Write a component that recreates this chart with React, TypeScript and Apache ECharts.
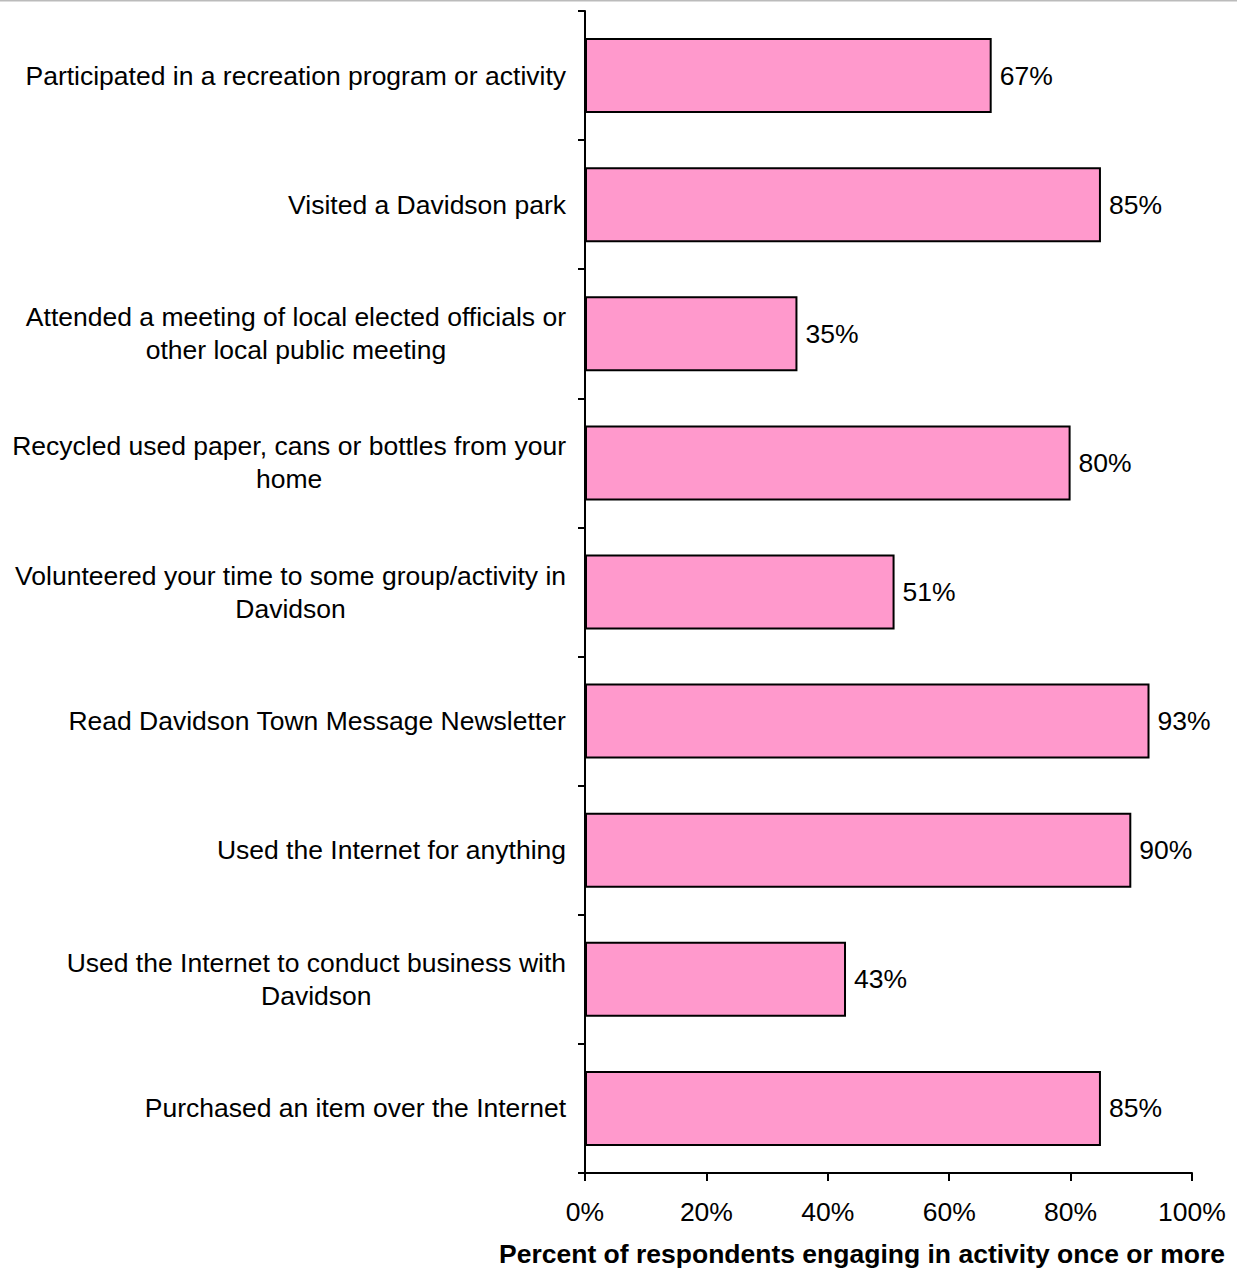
import React, { useEffect, useRef } from "react";
import * as echarts from "echarts";

const categories = [
  "Participated in a recreation program or activity",
  "Visited a Davidson park",
  "Attended a meeting of local elected officials or\nother local public meeting",
  "Recycled used paper, cans or bottles from your\nhome",
  "Volunteered your time to some group/activity in\nDavidson",
  "Read Davidson Town Message Newsletter",
  "Used the Internet for anything",
  "Used the Internet to conduct business with\nDavidson",
  "Purchased an item over the Internet",
];
const values = [67, 85, 35, 80, 51, 93, 90, 43, 85];
const xTicks = [0, 20, 40, 60, 80, 100];
const axisTitle = "Percent of respondents engaging in activity once or more";

export default function App() {
  const ref = useRef<HTMLDivElement>(null);
  useEffect(() => {
    const chart = echarts.init(ref.current!, null, { renderer: "svg" });
    const font = "Arial";
    const fs = 26.5;
    chart.setOption({
      animation: false,
      textStyle: { fontFamily: font },
      grid: { left: 585, right: 45, top: 11, bottom: 114, containLabel: false },
      xAxis: {
        type: "value",
        min: 0,
        max: 100,
        interval: 20,
        axisLine: { show: true, lineStyle: { color: "#000", width: 2 } },
        axisTick: { show: true, length: 8, lineStyle: { color: "#000", width: 2 } },
        axisLabel: {
          formatter: (v: number) => (xTicks.includes(v) ? v + "%" : ""),
          color: "#000",
          fontSize: fs,
          fontFamily: font,
          margin: 25,
        },
        splitLine: { show: false },
      },
      yAxis: {
        type: "category",
        data: categories,
        inverse: true,
        axisLine: { show: true, lineStyle: { color: "#000", width: 2 } },
        axisTick: { show: true, length: 7, lineStyle: { color: "#000", width: 2 } },
        axisLabel: {
          color: "#000",
          fontSize: fs,
          fontFamily: font,
          margin: 19,
          lineHeight: 33,
          align: "right",
          formatter: (v: string) =>
            v
              .split("\n")
              .map((l) => "{c|" + l + "}")
              .join("\n"),
          rich: {
            c: {
              align: "center",
              color: "#000",
              fontSize: fs,
              fontFamily: font,
              lineHeight: 33,
            },
          },
        },
      },
      series: [
        {
          type: "bar",
          data: values,
          barWidth: 75,
          itemStyle: { color: "#FF99CC", borderColor: "#000", borderWidth: 2 },
          label: {
            show: true,
            position: "right",
            distance: 8,
            formatter: "{c}%",
            color: "#000",
            fontSize: fs,
            fontFamily: font,
          },
        },
      ],
      graphic: [
        {
          type: "line",
          shape: { x1: 0, y1: 0.5, x2: 1237, y2: 0.5 },
          style: { stroke: "#bbbbbb", lineWidth: 2 },
        },
        {
          type: "text",
          x: 1225,
          y: 1254,
          style: {
            text: axisTitle,
            fill: "#000",
            fontSize: fs,
            fontWeight: "bold",
            fontFamily: font,
            textAlign: "right",
            textVerticalAlign: "middle",
          },
        },
      ],
    });
    return () => chart.dispose();
  }, []);
  return (
    <div
      ref={ref}
      style={{ position: "absolute", left: 0, top: 0, width: 1237, height: 1287 }}
    />
  );
}
